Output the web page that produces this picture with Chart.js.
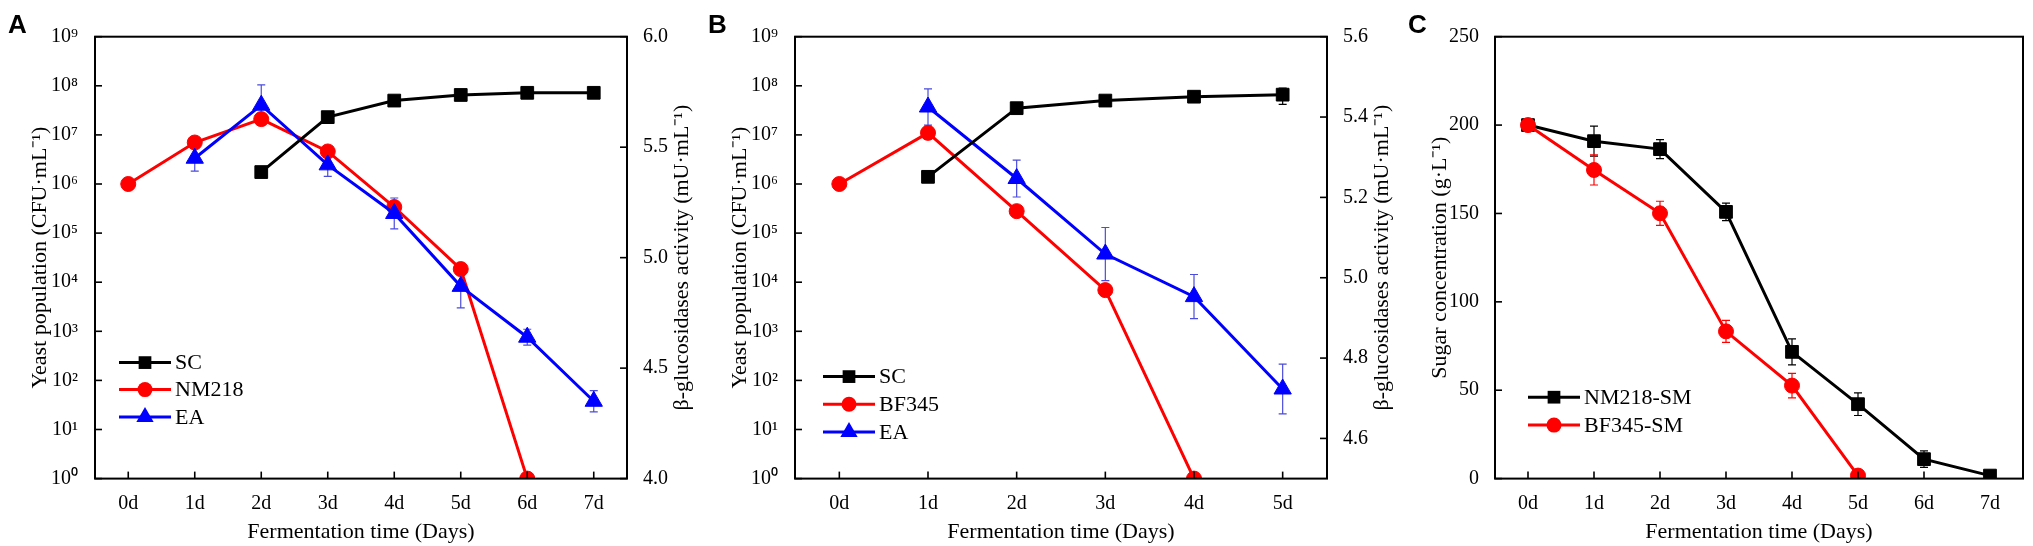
<!DOCTYPE html>
<html>
<head>
<meta charset="utf-8">
<script src="https://cdn.jsdelivr.net/npm/chart.js@4.4.1/dist/chart.umd.min.js"></script>
<style>
  html, body { margin: 0; padding: 0; background: #fff; }
  #wrap { position: relative; width: 2033px; height: 546px; overflow: hidden; }
  .panel { position: absolute; top: 0; height: 546px; }
  .letter { position: absolute; top: 11px; font: bold 26px "Liberation Sans", Arial, sans-serif; line-height: 1; color: #000; }
</style>
</head>
<body>
<div id="wrap">
  <div class="panel" style="left:0;width:700px"><canvas id="chartA" width="700" height="546"></canvas></div>
  <div class="panel" style="left:700px;width:700px"><canvas id="chartB" width="700" height="546"></canvas></div>
  <div class="panel" style="left:1400px;width:633px"><canvas id="chartC" width="633" height="546"></canvas></div>
  <div class="letter" style="left:8px">A</div>
  <div class="letter" style="left:708px">B</div>
  <div class="letter" style="left:1408px">C</div>
</div>
<script>
// ---- data ----
const daysA = ['0d', '1d', '2d', '3d', '4d', '5d', '6d', '7d'];
const daysB = ['0d', '1d', '2d', '3d', '4d', '5d'];

const logTicks = [1, 1e1, 1e2, 1e3, 1e4, 1e5, 1e6, 1e7, 1e8, 1e9];
const logTickLabels = ['10⁰', '10¹', '10²', '10³', '10⁴', '10⁵', '10⁶', '10⁷', '10⁸', '10⁹'];

// panel A
const scA = [null, null, 1.75e6, 2.3e7, 5.0e7, 6.5e7, 7.2e7, 7.2e7];
const nm218A = [1.0e6, 7.0e6, 2.1e7, 4.6e6, 3.4e5, 1.85e4, 1, null];
const eaA = [null, 5.45, 5.69, 5.42, 5.20, 4.87, 4.64, 4.35];
const eaAErr = [null, 0.058, 0.092, 0.052, 0.07, 0.097, 0.036, 0.048];
const rightTicksA = [4.0, 4.5, 5.0, 5.5, 6.0];

// panel B
const scB = [null, 1.4e6, 3.5e7, 5.0e7, 6.0e7, 6.6e7];
const scBErr = [null, null, null, null, null, 2.4e7];
const bf345B = [1.0e6, 1.1e7, 2.8e5, 6.9e3, 1, null];
const eaB = [null, 5.425, 5.247, 5.059, 4.953, 4.723];
const eaBErr = [null, 0.045, 0.046, 0.066, 0.055, 0.062];
const rightTicksB = [4.6, 4.8, 5.0, 5.2, 5.4, 5.6];

// panel C
const nm218SM = [200, 190.9, 186.4, 150.9, 71.7, 42.1, 11.0, 1.7];
const nm218SMErr = [1.5, 8.5, 5.4, 5, 7.4, 6.4, 4.7, null];
const bf345SM = [200, 174.6, 150.1, 83.3, 52.6, 1.7, null, null];
const bf345SMErr = [1.5, 8.5, 6.8, 6.2, 6.9, null, null, null];
const sugarTicks = [0, 50, 100, 150, 200, 250];

// ---- styling ----
const SERIF = '"Liberation Serif", "Times New Roman", serif';
const BLACK = '#000000', RED = '#ff0000', BLUE = '#0000ff';

function drawMarker(ctx, style, r, x, y, color) {
  ctx.fillStyle = color;
  ctx.beginPath();
  if (style === 'rect') {
    const s = Math.SQRT1_2 * r;
    ctx.rect(x - s, y - s, 2 * s, 2 * s);
  } else if (style === 'triangle') {
    let a = 0;
    ctx.moveTo(x + Math.sin(a) * r, y - Math.cos(a) * r);
    a += 2 * Math.PI / 3;
    ctx.lineTo(x + Math.sin(a) * r, y - Math.cos(a) * r);
    a += 2 * Math.PI / 3;
    ctx.lineTo(x + Math.sin(a) * r, y - Math.cos(a) * r);
    ctx.closePath();
  } else {
    ctx.arc(x, y, r, 0, Math.PI * 2);
  }
  ctx.fill();
}

const framePlugin = {
  id: 'frame',
  beforeDatasetsDraw(chart) {
    const ctx = chart.ctx, area = chart.chartArea;
    ctx.save();
    ctx.beginPath();
    ctx.rect(area.left, area.top, area.right - area.left, area.bottom - area.top);
    ctx.clip();
    chart.data.datasets.forEach((ds, i) => {
      if (!ds.errors) return;
      const meta = chart.getDatasetMeta(i);
      const ys = chart.scales[meta.yAxisID];
      ctx.strokeStyle = ds.errorColor;
      ctx.lineWidth = 1.2;
      ds.errors.forEach((e, j) => {
        const v = ds.data[j];
        if (e == null || v == null) return;
        const x = meta.data[j].x;
        const lo = Math.max(v - e, ys.min);
        const yt = ys.getPixelForValue(v + e), yb = ys.getPixelForValue(lo);
        ctx.beginPath();
        ctx.moveTo(x, yt); ctx.lineTo(x, yb);
        ctx.moveTo(x - 4, yt); ctx.lineTo(x + 4, yt);
        ctx.moveTo(x - 4, yb); ctx.lineTo(x + 4, yb);
        ctx.stroke();
      });
    });
    ctx.restore();
  },
  afterDraw(chart) {
    const ctx = chart.ctx, area = chart.chartArea;
    const opts = chart.options.plugins.frame;
    ctx.save();
    // inward ticks
    ctx.strokeStyle = BLACK;
    ctx.lineWidth = 1.6;
    const xs = chart.scales.x;
    xs.ticks.forEach((t, i) => {
      const px = xs.getPixelForTick(i);
      ctx.beginPath(); ctx.moveTo(px, area.bottom); ctx.lineTo(px, area.bottom - 7); ctx.stroke();
    });
    ['y', 'y2'].forEach(id => {
      const s = chart.scales[id];
      if (!s) return;
      s.ticks.forEach((t, i) => {
        const py = s.getPixelForTick(i);
        const x0 = id === 'y' ? area.left : area.right;
        const x1 = id === 'y' ? area.left + 7 : area.right - 7;
        ctx.beginPath(); ctx.moveTo(x0, py); ctx.lineTo(x1, py); ctx.stroke();
      });
    });
    // box
    ctx.lineWidth = 2;
    ctx.strokeRect(area.left, area.top, area.right - area.left, area.bottom - area.top);

    // right axis title (reads bottom to top)
    if (opts.rightTitle) {
      ctx.save();
      ctx.translate(area.right + opts.rightTitleOffset, (area.top + area.bottom) / 2);
      ctx.rotate(-Math.PI / 2);
      ctx.font = '22px ' + SERIF;
      ctx.fillStyle = BLACK;
      ctx.textAlign = 'center';
      ctx.textBaseline = 'middle';
      ctx.fillText(opts.rightTitle, 0, 0);
      ctx.restore();
    }

    // legend inside plot
    const lg = opts.legend;
    ctx.font = '22px ' + SERIF;
    ctx.textBaseline = 'middle';
    ctx.textAlign = 'left';
    chart.data.datasets.forEach((ds, i) => {
      const y = area.bottom + lg.rows[i];
      const x0 = area.left + lg.x;
      ctx.strokeStyle = ds.borderColor;
      ctx.lineWidth = 3;
      ctx.beginPath(); ctx.moveTo(x0, y); ctx.lineTo(x0 + lg.len, y); ctx.stroke();
      drawMarker(ctx, ds.pointStyle, ds.pointRadius, x0 + lg.len / 2, y, ds.borderColor);
      ctx.fillStyle = BLACK;
      ctx.fillText(ds.label, x0 + lg.len + 4, y + 1);
    });
    ctx.restore();
  }
};

function series(label, data, color, style, radius, order, axis, errors, errorColor) {
  return {
    label: label, data: data, yAxisID: axis, order: order,
    borderColor: color, backgroundColor: color, borderWidth: 3,
    pointStyle: style, pointRadius: radius, pointBorderWidth: 1,
    pointBorderColor: color, pointBackgroundColor: color,
    tension: 0, errors: errors, errorColor: errorColor
  };
}

function xAxis(labels) {
  return {
    type: 'category', labels: labels, offset: true,
    grid: { display: false }, border: { display: false },
    ticks: { color: BLACK, font: { family: SERIF, size: 20 }, padding: 5 },
    title: { display: true, text: 'Fermentation time (Days)', color: BLACK,
             font: { family: SERIF, size: 22 }, padding: { top: 0, bottom: 1 } },
    afterFit(s) { s.height = 67.4; }
  };
}

function leftTitle(text) {
  return { display: true, text: text, color: BLACK, font: { family: SERIF, size: 22 }, padding: { top: 27, bottom: 0 } };
}

function logAxis() {
  return {
    type: 'logarithmic', position: 'left', min: 1, max: 1e9,
    grid: { display: false }, border: { display: false },
    afterBuildTicks(s) { s.ticks = logTicks.map(v => ({ value: v, major: true })); },
    ticks: { color: BLACK, font: { family: SERIF, size: 20 }, padding: 9,
             callback: (v, i) => logTickLabels[i] },
    title: leftTitle('Yeast population (CFU·mL⁻¹)'),
    afterFit(s) { s.width = 95; }
  };
}

function rightAxis(min, max, tickVals) {
  return {
    type: 'linear', position: 'right', min: min, max: max,
    grid: { display: false }, border: { display: false },
    afterBuildTicks(s) { s.ticks = tickVals.map(v => ({ value: v })); },
    ticks: { color: BLACK, font: { family: SERIF, size: 20 }, padding: 8,
             callback: v => v.toFixed(1) },
    afterFit(s) { s.width = 73; }
  };
}

function baseOptions(scales, frame, padRight) {
  return {
    responsive: false, animation: false, events: [],
    layout: { padding: { top: 36.7, right: padRight, bottom: 0, left: 0 } },
    plugins: { legend: { display: false }, tooltip: { enabled: false }, frame: frame },
    scales: scales
  };
}

new Chart(document.getElementById('chartA'), {
  type: 'line',
  data: {
    labels: daysA,
    datasets: [
      series('SC', scA, BLACK, 'rect', 9, 0, 'y', null, BLACK),
      series('NM218', nm218A, RED, 'circle', 7.5, 2, 'y', null, RED),
      series('EA', eaA, BLUE, 'triangle', 10, 1, 'y2', eaAErr, '#4b4bdc')
    ]
  },
  options: baseOptions(
    { x: xAxis(daysA), y: logAxis(), y2: rightAxis(4.0, 6.0, rightTicksA) },
    { rightTitle: 'β-glucosidases activity (mU·mL⁻¹)', rightTitleOffset: 55,
      legend: { x: 24, len: 52, rows: [-116, -89, -61.6] } },
    0),
  plugins: [framePlugin]
});

new Chart(document.getElementById('chartB'), {
  type: 'line',
  data: {
    labels: daysB,
    datasets: [
      series('SC', scB, BLACK, 'rect', 9, 0, 'y', scBErr, BLACK),
      series('BF345', bf345B, RED, 'circle', 7.5, 2, 'y', null, RED),
      series('EA', eaB, BLUE, 'triangle', 10, 1, 'y2', eaBErr, '#4b4bdc')
    ]
  },
  options: baseOptions(
    { x: xAxis(daysB), y: logAxis(), y2: rightAxis(4.5, 5.6, rightTicksB) },
    { rightTitle: 'β-glucosidases activity (mU·mL⁻¹)', rightTitleOffset: 55,
      legend: { x: 28, len: 52, rows: [-102, -74.4, -46.6] } },
    0),
  plugins: [framePlugin]
});

new Chart(document.getElementById('chartC'), {
  type: 'line',
  data: {
    labels: daysA,
    datasets: [
      series('NM218-SM', nm218SM, BLACK, 'rect', 9, 1, 'y', nm218SMErr, BLACK),
      series('BF345-SM', bf345SM, RED, 'circle', 7.5, 0, 'y', bf345SMErr, RED)
    ]
  },
  options: baseOptions(
    {
      x: xAxis(daysA),
      y: {
        type: 'linear', position: 'left', min: 0, max: 250,
        grid: { display: false }, border: { display: false },
        afterBuildTicks(s) { s.ticks = sugarTicks.map(v => ({ value: v })); },
        ticks: { color: BLACK, font: { family: SERIF, size: 20 }, padding: 8 },
        title: leftTitle('Sugar concentration (g·L⁻¹)'),
        afterFit(s) { s.width = 95; }
      }
    },
    { rightTitle: null, legend: { x: 33, len: 52, rows: [-81.4, -53.5] } },
    4.7),
  plugins: [framePlugin]
});
</script>
</body>
</html>
